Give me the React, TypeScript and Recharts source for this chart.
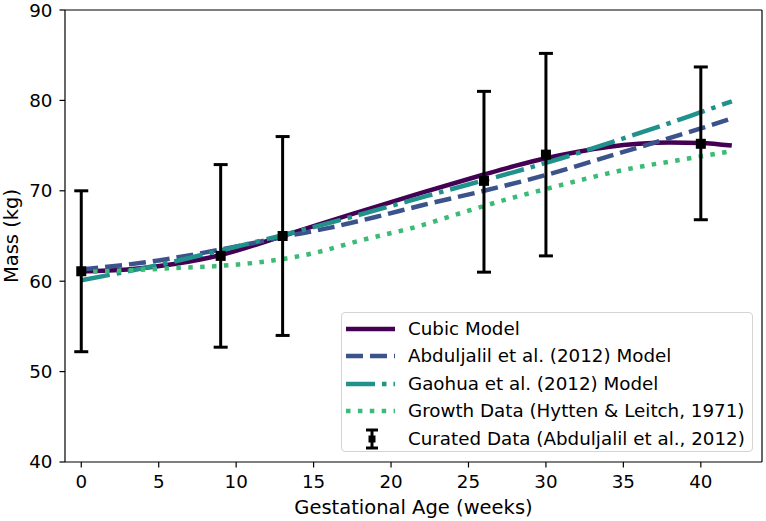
import React from "react";
import {
    ComposedChart,
    Line,
    Scatter,
    ErrorBar,
    XAxis,
    YAxis,
    Legend,
    ReferenceLine,
    Label,
} from "recharts";

const FONT = "'DejaVu Sans', sans-serif";

// Axis setup
const X_MIN = -1.05;
const X_MAX = 43.95;
const xTicks = [0, 5, 10, 15, 20, 25, 30, 35, 40];
const yTicks = [40, 50, 60, 70, 80, 90];

// Cubic model
const cubicWeeks = [0, 3, 6, 9, 13, 15, 18, 22, 26, 28, 30, 32, 34, 36, 38, 40, 42];
const cubicMass = [61.1, 61.3, 61.9, 62.9, 65.0, 66.1, 67.7, 69.8, 71.8, 72.75, 73.6, 74.3, 74.85, 75.2, 75.35, 75.3, 75.0];

// Abduljalil et al. (2012) model
const abduljalilWeeks = [0, 5, 9, 13, 16, 19, 22, 26, 30, 35, 40, 42];
const abduljalilMass = [61.3, 62.3, 63.5, 64.9, 65.9, 67.1, 68.4, 70.0, 71.75, 74.3, 76.9, 78.0];

// Gaohua et al. (2012) model
const gaohuaWeeks = [0, 5, 9, 13, 17, 21, 25, 28, 31, 35, 38, 40, 42];
const gaohuaMass = [60.1, 61.8, 63.4, 65.1, 66.9, 68.8, 70.7, 72.1, 73.6, 75.8, 77.5, 78.7, 79.9];

// Growth data (Hytten & Leitch, 1971)
const growthWeeks = [0, 3, 6, 9, 12, 15, 18, 21.6, 25, 28, 30, 35, 40, 42];
const growthMass = [61.0, 61.2, 61.45, 61.7, 62.2, 63.1, 64.5, 66.0, 67.8, 69.3, 70.2, 72.3, 73.8, 74.4];

// Curated data (Abduljalil et al., 2012)
const curatedWeeks = [0, 9, 13, 26, 30, 40];
const curatedMass = [61.1, 62.8, 65.0, 71.1, 74.0, 75.2];
const curatedLower = [52.2, 52.7, 54.0, 61.0, 62.8, 66.8];
const curatedUpper = [70.0, 72.9, 76.0, 81.0, 85.2, 83.7];

const COLORS = {
    cubic: "#440154",
    abduljalil: "#3b528b",
    gaohua: "#21918c",
    growth: "#3bbb75",
};

const DASHES = {
    cubic: undefined,
    abduljalil: "17 7",
    gaohua: "29 7 4.5 7",
    growth: "4.5 7.4",
};

const LINE_WIDTH = 4.5;

const toPoints = (weeks: number[], mass: number[]) =>
    weeks.map((w, i) => ({ w, m: mass[i] }));

const curatedData = curatedWeeks.map((w, i) => ({
    w,
    m: curatedMass[i],
    err: [curatedMass[i] - curatedLower[i], curatedUpper[i] - curatedMass[i]],
}));

const SERIES = [
    { key: "cubic", name: "Cubic Model", data: toPoints(cubicWeeks, cubicMass) },
    { key: "abduljalil", name: "Abduljalil et al. (2012) Model", data: toPoints(abduljalilWeeks, abduljalilMass) },
    { key: "gaohua", name: "Gaohua et al. (2012) Model", data: toPoints(gaohuaWeeks, gaohuaMass) },
    { key: "growth", name: "Growth Data (Hytten & Leitch, 1971)", data: toPoints(growthWeeks, growthMass) },
] as const;

const SquareMarker = (props: any) => {
    const { cx, cy } = props;
    if (cx == null || cy == null) return null;
    return <rect x={cx - 5} y={cy - 5} width={10} height={10} fill="#000" />;
};

const LegendBox = () => (
    <div
        style={{
            boxSizing: "border-box",
            width: 412,
            height: 140,
            border: "1px solid #d4d4d4",
            borderRadius: 4,
            background: "rgba(255,255,255,0.85)",
            paddingTop: 2,
            fontFamily: FONT,
            fontSize: 18.3,
            color: "#000",
        }}
    >
        {SERIES.map((s) => (
            <div key={s.key} style={{ display: "flex", alignItems: "center", height: 27.5 }}>
                <svg width={50} height={20} style={{ marginLeft: 3, flex: "none" }}>
                    <line
                        x1={1}
                        y1={10}
                        x2={51}
                        y2={10}
                        stroke={COLORS[s.key]}
                        strokeWidth={LINE_WIDTH}
                        strokeDasharray={DASHES[s.key]}
                    />
                </svg>
                <span style={{ marginLeft: 13, whiteSpace: "nowrap", lineHeight: 1 }}>{s.name}</span>
            </div>
        ))}
        <div style={{ display: "flex", alignItems: "center", height: 27.5 }}>
            <svg width={50} height={22} style={{ marginLeft: 3, flex: "none" }}>
                <line x1={27} y1={2} x2={27} y2={20} stroke="#000" strokeWidth={3} />
                <line x1={21} y1={2} x2={33} y2={2} stroke="#000" strokeWidth={3} />
                <line x1={21} y1={20} x2={33} y2={20} stroke="#000" strokeWidth={3} />
                <rect x={23.5} y={7.5} width={7} height={7} fill="#000" />
            </svg>
            <span style={{ marginLeft: 13, whiteSpace: "nowrap", lineHeight: 1 }}>
                Curated Data (Abduljalil et al., 2012)
            </span>
        </div>
    </div>
);

export default function App() {
    return (
        <div style={{ position: "absolute", left: 0, top: 0, background: "#fff" }}>
            <ComposedChart
                width={766}
                height={521}
                margin={{ top: 10, right: 4, left: 0, bottom: 0 }}
                style={{ fontFamily: FONT }}
            >
                <XAxis
                    dataKey="w"
                    type="number"
                    domain={[X_MIN, X_MAX]}
                    ticks={xTicks}
                    interval={0}
                    height={59}
                    tickSize={5.5}
                    tickMargin={8}
                    axisLine={{ stroke: "#000", strokeWidth: 1.2 }}
                    tickLine={{ stroke: "#000", strokeWidth: 1.2 }}
                    tick={{ fill: "#000", fontSize: 18.3, fontFamily: FONT }}
                >
                    <Label
                        value="Gestational Age (weeks)"
                        position="insideBottom"
                        offset={7}
                        fill="#000"
                        fontSize={19.5}
                        fontFamily={FONT}
                    />
                </XAxis>
                <YAxis
                    type="number"
                    domain={[40, 90]}
                    ticks={yTicks}
                    interval={0}
                    width={65}
                    tickSize={5.5}
                    tickMargin={7}
                    axisLine={{ stroke: "#000", strokeWidth: 1.2 }}
                    tickLine={{ stroke: "#000", strokeWidth: 1.2 }}
                    tick={{ fill: "#000", fontSize: 18.3, fontFamily: FONT }}
                >
                    <Label
                        content={(p: any) => {
                            const vb = p.viewBox || { y: 10, height: 452 };
                            const cy = vb.y + vb.height / 2;
                            return (
                                <text
                                    x={17.5}
                                    y={cy}
                                    transform={`rotate(-90 17.5 ${cy})`}
                                    textAnchor="middle"
                                    fontSize={19.5}
                                    fill="#000"
                                    fontFamily={FONT}
                                >
                                    Mass (kg)
                                </text>
                            );
                        }}
                    />
                </YAxis>

                {/* top and right spines */}
                <ReferenceLine y={90} stroke="#000" strokeWidth={1.2} />
                <ReferenceLine x={X_MAX} stroke="#000" strokeWidth={1.2} />

                {SERIES.map((s) => (
                    <Line
                        key={s.key}
                        data={s.data}
                        dataKey="m"
                        name={s.name}
                        type="monotone"
                        stroke={COLORS[s.key]}
                        strokeWidth={LINE_WIDTH}
                        strokeDasharray={DASHES[s.key]}
                        dot={false}
                        activeDot={false}
                        isAnimationActive={false}
                    />
                ))}

                <Scatter
                    data={curatedData}
                    dataKey="m"
                    name="Curated Data (Abduljalil et al., 2012)"
                    shape={SquareMarker}
                    isAnimationActive={false}
                >
                    <ErrorBar
                        dataKey="err"
                        direction="y"
                        width={7}
                        strokeWidth={3}
                        stroke="#000"
                        isAnimationActive={false}
                    />
                </Scatter>

                <Legend
                    layout="vertical"
                    align="center"
                    verticalAlign="middle"
                    content={<LegendBox />}
                    wrapperStyle={{ left: 341, top: 312, width: 412, height: 140 }}
                />
            </ComposedChart>
        </div>
    );
}
